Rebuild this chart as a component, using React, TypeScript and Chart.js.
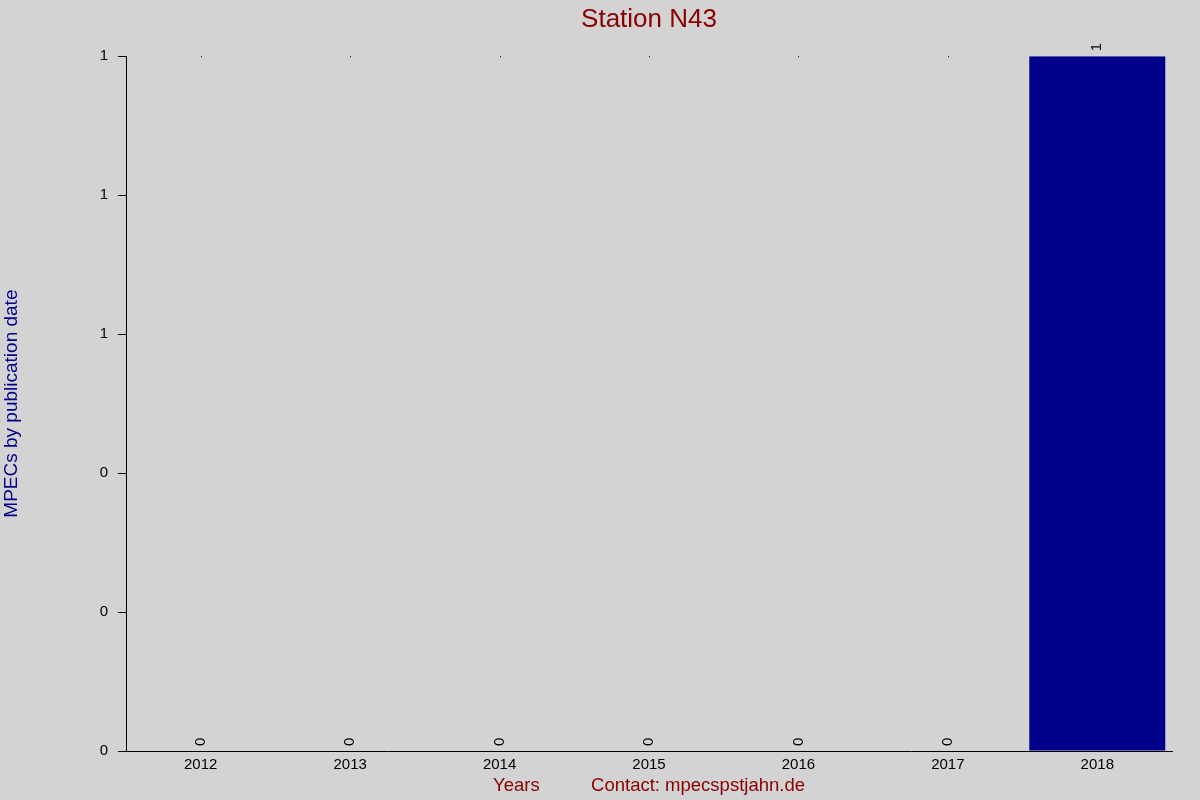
import { useEffect, useRef } from 'react';
import Chart from 'chart.js/auto';

const years = ['2012', '2013', '2014', '2015', '2016', '2017', '2018'];
const mpecs = [0, 0, 0, 0, 0, 0, 1];
const yTicks = [0, 0.2, 0.4, 0.6, 0.8, 1];

const FONT = '"Liberation Sans", Arial, sans-serif';

// value labels rotated upward above each bar
const barLabels = {
  id: 'barLabels',
  afterDatasetsDraw(chart: any) {
    const ctx = chart.ctx;
    const meta = chart.getDatasetMeta(0);
    ctx.save();
    ctx.fillStyle = '#000000';
    ctx.font = `15px ${FONT}`;
    ctx.textAlign = 'left';
    ctx.textBaseline = 'middle';
    meta.data.forEach((bar: any, i: number) => {
      ctx.save();
      ctx.translate(bar.x, bar.y - 5);
      ctx.rotate(-Math.PI / 2);
      ctx.fillText(String(mpecs[i]), 0, 0);
      ctx.restore();
      // small dot at the top of the plot for empty years
      if (mpecs[i] === 0) ctx.fillRect(Math.round(bar.x), chart.chartArea.top, 1, 1);
    });
    ctx.restore();
  },
};

export default function App() {
  const canvasRef = useRef<HTMLCanvasElement>(null);

  useEffect(() => {
    document.body.style.margin = '0';
    let chart: Chart | null = null;
    if (canvasRef.current) {
      chart = new Chart(canvasRef.current, {
        type: 'bar',
        data: {
          labels: years,
          datasets: [{
            data: mpecs,
            backgroundColor: '#00008b',
            borderWidth: 0,
            barPercentage: 0.91,
            categoryPercentage: 1,
          }],
        },
        options: {
          responsive: true,
          maintainAspectRatio: false,
          animation: false,
          layout: { padding: { right: 28 } },
          plugins: {
            legend: { display: false },
            tooltip: { enabled: false },
            title: {
              display: true,
              fullSize: false,
              text: 'Station N43',
              color: '#8b0000',
              font: { family: FONT, size: 26, weight: 'normal' },
              padding: { top: 4, bottom: 21 },
            },
          },
          scales: {
            x: {
              grid: { display: false, drawTicks: false },
              border: { display: true, color: '#000000', width: 1 },
              ticks: { color: '#000000', font: { family: FONT, size: 15 }, padding: 5 },
              title: {
                display: true,
                text: 'Years          Contact: mpecspstjahn.de',
                color: '#8b0000',
                font: { family: FONT, size: 18.5 },
                padding: { top: 0, bottom: 3 },
              },
              afterFit(scale: any) { scale.height = 49; },
            },
            y: {
              min: 0,
              max: 1,
              afterBuildTicks(scale: any) {
                scale.ticks = yTicks.map((v) => ({ value: v }));
              },
              grid: {
                drawOnChartArea: false,
                drawTicks: true,
                tickLength: 8,
                color: '#000000',
              },
              border: { display: true, color: '#000000', width: 1 },
              ticks: {
                color: '#000000',
                font: { family: FONT, size: 15 },
                padding: 10,
                callback: (v: any) => String(Math.round(Number(v))),
              },
              title: {
                display: true,
                text: 'MPECs by publication date',
                color: '#00008b',
                font: { family: FONT, size: 19 },
                padding: { top: 0, bottom: 0 },
              },
              afterFit(scale: any) { scale.width = 126; },
            },
          },
        },
        plugins: [barLabels],
      });
    }
    return () => {
      chart?.destroy();
    };
  }, []);

  return (
    <div style={{ position: 'fixed', left: 0, top: 0, width: 1200, height: 800, background: '#d3d3d3' }}>
      <canvas ref={canvasRef} />
    </div>
  );
}
